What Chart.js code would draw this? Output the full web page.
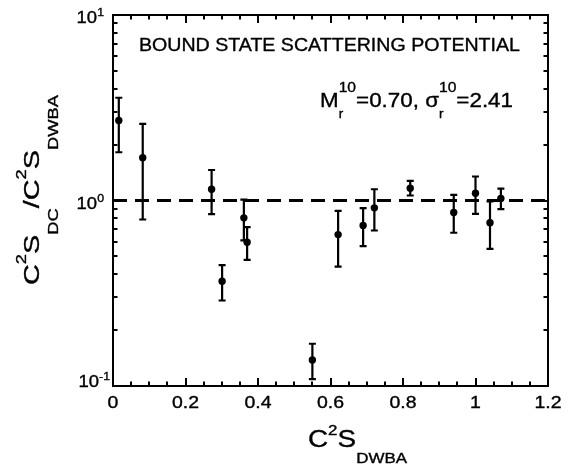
<!DOCTYPE html>
<html>
<head>
<meta charset="utf-8">
<script src="https://cdn.jsdelivr.net/npm/chart.js@4.4.1/dist/chart.umd.min.js"></script>
<style>
  html, body { margin: 0; padding: 0; background: #fff; }
  #wrap { width: 574px; height: 470px; position: relative; }
</style>
</head>
<body>
<div id="wrap"><canvas id="c"></canvas></div>
<script>
// ---- data ----
const c2sDWBA   = [0.016, 0.082, 0.272, 0.301, 0.361, 0.370, 0.550, 0.621, 0.690, 0.721, 0.820, 0.940, 1.000, 1.040, 1.070];
const ratio     = [2.70, 1.70, 1.15, 0.367, 0.806, 0.596, 0.138, 0.655, 0.733, 0.913, 1.165, 0.862, 1.095, 0.758, 1.025];
const ratioHigh = [3.58, 2.59, 1.46, 0.448, 1.01, 0.718, 0.169, 0.88, 0.909, 1.15, 1.277, 1.073, 1.347, 0.988, 1.16];
const ratioLow  = [1.82, 0.79, 0.844, 0.289, 0.61, 0.479, 0.109, 0.44, 0.567, 0.689, 1.064, 0.67, 0.847, 0.549, 0.898];
const refLineX  = [0, 1.2];
const refLineY  = [1, 1];
const xTickVals = [0, 0.2, 0.4, 0.6, 0.8, 1, 1.2];
const xTickLabels = ['0', '0.2', '0.4', '0.6', '0.8', '1', '1.2'];
const yDecades  = [0.1, 1, 10];
const yExponents = ['-1', '0', '1'];
const annotation1 = 'BOUND STATE SCATTERING POTENTIAL';
const annotation2 = { m: 'M', mSub: 'r', mSup: '10', mVal: '=0.70, σ', sSub: 'r', sSup: '10', sVal: '=2.41' };

const FONT = '"Liberation Sans", Arial, Helvetica, sans-serif';

// rich text: segs [{t, size, dy, back}] ; drawn along reading dir, optionally scaled to fit a target length
function richLayout(ctx, segs) {
  let cursor = 0, prevStart = 0;
  const out = [];
  for (const s of segs) {
    ctx.font = s.size + 'px ' + FONT;
    const w = ctx.measureText(s.t).width;
    const start = s.back ? prevStart : cursor;
    out.push({ s, x: start, w });
    cursor = Math.max(cursor, start + w);
    prevStart = start;
  }
  return { items: out, width: cursor };
}
function drawRich(ctx, segs, x, y, opt) {
  const L = richLayout(ctx, segs);
  const sx = opt.target ? opt.target / L.width : (opt.sx || 1);
  ctx.save();
  ctx.translate(x, y);
  if (opt.rot) ctx.rotate(opt.rot);
  ctx.scale(sx, 1);
  let off = 0;
  if (opt.align === 'right') off = -L.width;
  else if (opt.align === 'center') off = -L.width / 2;
  ctx.fillStyle = '#000';
  ctx.strokeStyle = '#000';
  ctx.lineWidth = 0.35;
  ctx.textBaseline = 'alphabetic';
  ctx.textAlign = 'left';
  for (const it of L.items) {
    ctx.font = it.s.size + 'px ' + FONT;
    ctx.fillText(it.s.t, off + it.x, it.s.dy || 0);
    ctx.strokeText(it.s.t, off + it.x, it.s.dy || 0);
  }
  ctx.restore();
}

const errorBars = {
  id: 'errorBars',
  afterDatasetsDraw(chart) {
    const { ctx, scales: { x, y } } = chart;
    ctx.save();
    ctx.strokeStyle = '#000';
    ctx.lineWidth = 2.2;
    ctx.lineCap = 'butt';
    for (let i = 0; i < c2sDWBA.length; i++) {
      const px = x.getPixelForValue(c2sDWBA[i]);
      const yh = y.getPixelForValue(ratioHigh[i]);
      const yl = y.getPixelForValue(ratioLow[i]);
      ctx.beginPath();
      ctx.moveTo(px, yh); ctx.lineTo(px, yl);
      ctx.moveTo(px - 3.5, yh); ctx.lineTo(px + 3.5, yh);
      ctx.moveTo(px - 3.5, yl); ctx.lineTo(px + 3.5, yl);
      ctx.stroke();
    }
    ctx.restore();
  }
};

const frameAndText = {
  id: 'frameAndText',
  afterDraw(chart) {
    const { ctx, chartArea: a, scales: { x, y } } = chart;
    ctx.save();
    ctx.strokeStyle = '#000';
    ctx.lineWidth = 2;
    // frame
    ctx.strokeRect(a.left, a.top, a.right - a.left, a.bottom - a.top);
    // x ticks (inward, top and bottom)
    ctx.beginPath();
    for (let k = 0; k <= 24; k++) {
      const v = k * 0.05;
      const px = Math.round(x.getPixelForValue(v));
      const len = (k % 4 === 0) ? 8 : 4.5;
      ctx.moveTo(px, a.bottom); ctx.lineTo(px, a.bottom - len);
      ctx.moveTo(px, a.top); ctx.lineTo(px, a.top + len);
    }
    // y ticks (log, inward, left and right)
    for (let d = -1; d <= 0; d++) {
      for (let m = 1; m <= 10; m++) {
        const v = m * Math.pow(10, d);
        const py = Math.round(y.getPixelForValue(v));
        const len = (m === 1 || m === 10) ? 8 : 4.5;
        ctx.moveTo(a.left, py); ctx.lineTo(a.left + len, py);
        ctx.moveTo(a.right, py); ctx.lineTo(a.right - len, py);
      }
    }
    ctx.stroke();

    // x tick labels
    xTickVals.forEach((v, i) => {
      drawRich(ctx, [{ t: xTickLabels[i], size: 16.5 }], x.getPixelForValue(v), a.bottom + 22, { align: 'center', sx: 1.18 });
    });
    // y tick labels
    yDecades.forEach((v, i) => {
      let py = y.getPixelForValue(v) + 8;
      let rx = 104;
      if (i === 0) { py = a.bottom + 1; rx = 110; }
      drawRich(ctx, [{ t: '10', size: 16.5 }, { t: yExponents[i], size: 11, dy: -7 }], rx, py, { align: 'right', sx: 1.12 });
    });

    // x title
    drawRich(ctx, [
      { t: 'C', size: 23 }, { t: '2', size: 14, dy: -12 }, { t: 'S', size: 23 }, { t: 'DWBA', size: 14, dy: 16 }
    ], 308, 447, { target: 99 });

    // y title (rotated)
    drawRich(ctx, [
      { t: 'C', size: 22 }, { t: '2', size: 14, dy: -13 }, { t: 'S', size: 22 }, { t: 'DC', size: 14, dy: 19 },
      { t: '/C', size: 22 }, { t: '2', size: 14, dy: -13 }, { t: 'S', size: 22 }, { t: 'DWBA', size: 14, dy: 19 }
    ], 39, 285, { rot: -Math.PI / 2, target: 190 });

    // annotations
    drawRich(ctx, [{ t: annotation1, size: 18 }], 139, 51, { target: 381 });
    drawRich(ctx, [
      { t: annotation2.m, size: 20 }, { t: annotation2.mSub, size: 12, dy: 11 }, { t: annotation2.mSup, size: 14, dy: -15, back: true },
      { t: annotation2.mVal, size: 20 }, { t: annotation2.sSub, size: 12, dy: 11 }, { t: annotation2.sSup, size: 14, dy: -15, back: true },
      { t: annotation2.sVal, size: 20 }
    ], 320, 107, { target: 193 });
    ctx.restore();
  }
};

const chart = new Chart(document.getElementById('c'), {
  type: 'scatter',
  data: {
    datasets: [
      {
        type: 'line',
        data: refLineX.map((v, i) => ({ x: v, y: refLineY[i] })),
        borderColor: '#000',
        borderWidth: 3,
        borderDash: [14, 8],
        pointRadius: 0,
        fill: false
      },
      {
        data: c2sDWBA.map((v, i) => ({ x: v, y: ratio[i] })),
        backgroundColor: '#000',
        borderColor: '#000',
        pointRadius: 3.7,
        pointHoverRadius: 3.7,
        borderWidth: 0
      }
    ]
  },
  options: {
    responsive: true,
    maintainAspectRatio: false,
    animation: false,
    events: [],
    layout: { padding: { left: 0, right: 26, top: 15, bottom: 0 } },
    plugins: { legend: { display: false }, tooltip: { enabled: false } },
    scales: {
      x: {
        type: 'linear', min: 0, max: 1.2,
        grid: { display: false },
        border: { display: false },
        ticks: { display: false },
        afterFit(s) { s.height = 84; }
      },
      y: {
        type: 'logarithmic', min: 0.1, max: 10,
        grid: { display: false },
        border: { display: false },
        ticks: { display: false },
        afterFit(s) { s.width = 113; }
      }
    }
  },
  plugins: [errorBars, frameAndText]
});
</script>
</body>
</html>
